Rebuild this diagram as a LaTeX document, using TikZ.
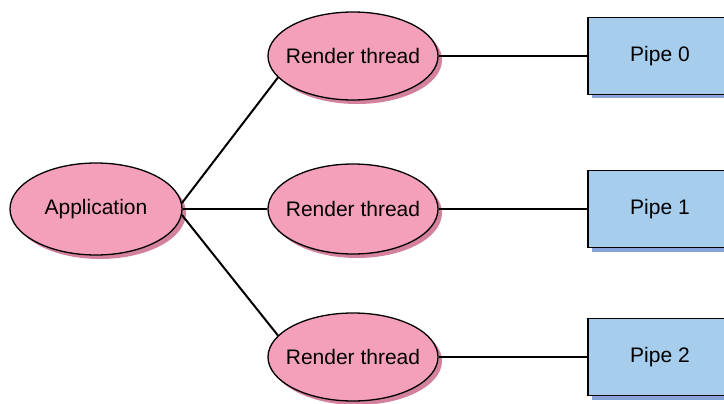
\documentclass[tikz,border=0pt]{standalone}
\usepackage{fontspec}
\setmainfont{Liberation Sans}
\usetikzlibrary{shapes.geometric,shadows}
\definecolor{threadpink}{HTML}{F4A0BA}
\definecolor{threadshade}{HTML}{D3819C}
\definecolor{pipeblue}{HTML}{A7CDEC}
\definecolor{pipeshade}{HTML}{86A3DA}
\tikzset{
  task/.style={ellipse, draw=black, line width=1.3pt, fill=threadpink,
    inner xsep=-10pt, inner ysep=0pt, font=\fontsize{21}{24}\selectfont,
    drop shadow={shadow xshift=4pt, shadow yshift=-4pt, fill=threadshade, opacity=1}},
  pipebox/.style={rectangle, draw=black, line width=1.3pt, fill=pipeblue,
    minimum width=144pt, minimum height=77pt, inner sep=0pt,
    font=\fontsize{21}{24}\selectfont,
    drop shadow={shadow xshift=4pt, shadow yshift=-4pt, fill=pipeshade, opacity=1}},
  link/.style={draw=black, line width=2pt}
}
\begin{document}
\begin{tikzpicture}[x=1pt,y=-1pt]
\useasboundingbox (0,0) rectangle (724,404);
\clip (0,0) rectangle (724,404);
% application
\node[task, minimum width=172pt, minimum height=92pt] (app) at (96,209) {Application};
% render threads
\node[task, minimum width=170pt, minimum height=88pt] (rt0) at (353,56) {Render thread};
\node[task, minimum width=170pt, minimum height=90pt] (rt1) at (353,209) {Render thread};
\node[task, minimum width=170pt, minimum height=88pt] (rt2) at (353,357) {Render thread};
% pipes
\node[pipebox] (p0) at (660,56) {Pipe 0};
\node[pipebox] (p1) at (660,209) {Pipe 1};
\node[pipebox] (p2) at (660,357) {Pipe 2};
% connectors
\draw[link] (app.4) -- (rt0.196);
\draw[link] (app.east) -- (rt1.west);
\draw[link] (app.-4) -- (rt2.164);
\draw[link] (rt0.east) -- (p0.west);
\draw[link] (rt1.east) -- (p1.west);
\draw[link] (rt2.east) -- (p2.west);
\end{tikzpicture}
\end{document}
